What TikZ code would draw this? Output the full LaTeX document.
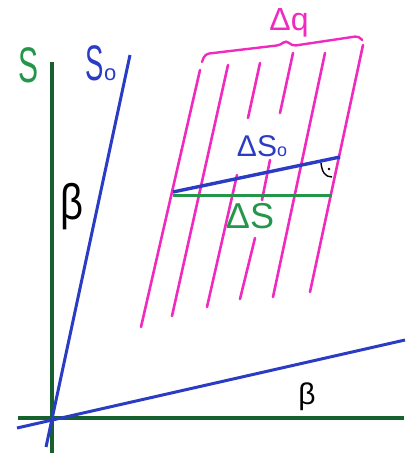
\documentclass[tikz,border=0pt]{standalone}
\usepackage{fontspec}
\setmainfont{Liberation Sans}
\usetikzlibrary{calc}
\definecolor{axisgreen}{HTML}{17612E}
\definecolor{markgreen}{HTML}{23964A}
\definecolor{penblue}{HTML}{2B3CC4}
\definecolor{penpink}{HTML}{F02ABE}

\begin{document}
\begin{tikzpicture}[
    x=1pt,y=-1pt,
    every node/.style={inner sep=0pt},
    axis/.style={axisgreen,line width=4.5pt},
    ray/.style={penblue,line width=3pt},
    strip/.style={penpink,line width=2.6pt,line cap=round},
    big/.style={font=\fontsize{50}{50}\selectfont},
    small/.style={font=\fontsize{30}{30}\selectfont}
]
\useasboundingbox (0,0) rectangle (418,457);

% axes and rays through the origin
\coordinate (o) at (52,418);
\draw[axis] (52,62) -- (52,453);
\draw[axis] (18,418) -- (404,418);
\draw[ray] (130,55) -- (46,447);
\draw[ray] (17,428) -- (405,340);

\node[big,markgreen] (s) at (29,65) {\scalebox{0.6}[1]{S}};
\node[big,penblue] (s0) at (101,63) {\scalebox{0.55}[1]{S}{\fontsize{22}{22}\selectfont o}};
\node[big] (betay) at (72,207) {\scalebox{0.8}[1]{β}};
\node[small] (betax) at (307,397) {β};

% strips
\draw[strip] (200,70) -- (141,327);
\draw[strip] (228,65) -- (172,316);
\draw[strip] (260,63) -- (248,118);
\draw[strip] (237,175) -- (207,307);
\draw[strip] (293,53) -- (280,113);
\draw[strip] (270,160) -- (262,200);
\draw[strip] (255,238) -- (240,299);
\draw[strip] (325,53) -- (273,297);
\draw[strip] (363,45) -- (310,292);

% brace
\draw[penpink,line width=2.4pt,line cap=round,rounded corners=4pt]
  (202,62) -- (205,54) -- (281,45) -- (286,40) -- (292,46) -- (359,36) -- (362,40);
\node[font=\fontsize{32}{32}\selectfont,penpink] (dq) at (289,23) {Δq};

% segments
\draw[ray,line width=3.4pt] (173,192) -- (340,157);
\draw[markgreen,line width=3pt] (173,195) -- (332,195);
\node[small,penblue] (ds0) at (262,146) {ΔS{\fontsize{18}{18}\selectfont o}};
\node[font=\fontsize{36}{36}\selectfont,markgreen] (ds) at (250,216) {ΔS};

% right angle
\draw[line width=1.4pt] (321,163) .. controls (322,172) and (325,177) .. (332,177);
\fill (329,169) circle (1.3pt);
\end{tikzpicture}
\end{document}
